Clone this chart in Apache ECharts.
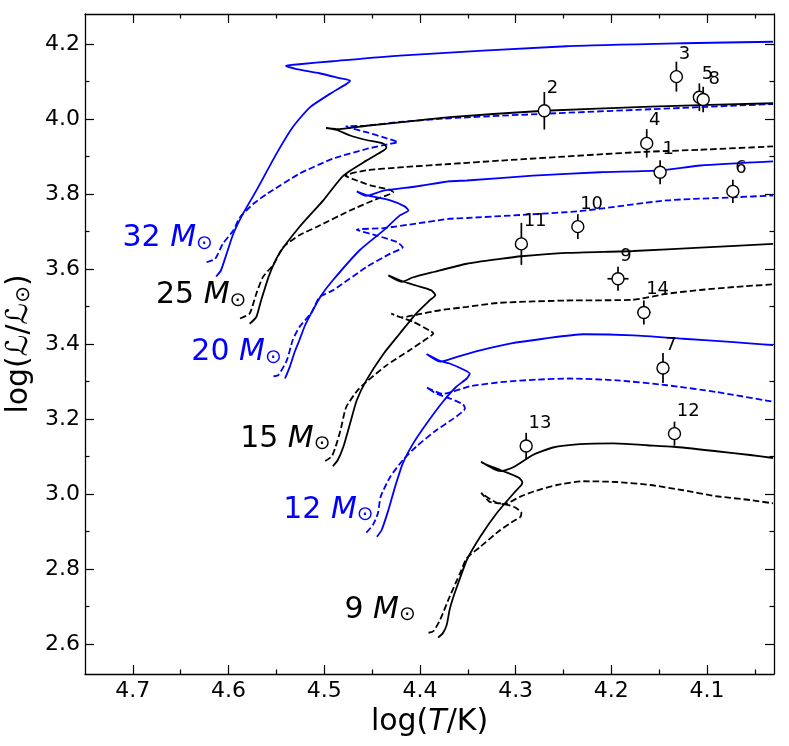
<!DOCTYPE html>
<html><head><meta charset="utf-8">
<script src="https://cdn.jsdelivr.net/npm/echarts@6/dist/echarts.min.js"></script>
<style>html,body{margin:0;padding:0;background:#fff}#c{width:789px;height:746px}</style>
</head><body><div id="c"></div>
<script>
const FONT = 'DejaVu Sans';
const BLUE = '#0000ff', BLACK = '#000000';

// axis ticks
const xTicks = [4.1, 4.2, 4.3, 4.4, 4.5, 4.6, 4.7];
const xMinorTicks = [4.05, 4.15, 4.25, 4.35, 4.45, 4.55, 4.65];
const yTicks = [2.6, 2.8, 3.0, 3.2, 3.4, 3.6, 3.8, 4.0, 4.2];
const yMinorTicks = [2.7, 2.9, 3.1, 3.3, 3.5, 3.7, 3.9, 4.1];

// evolutionary tracks [logT, logL]
const track9Solid = [[4.381,2.617],[4.376,2.629],[4.372,2.651],[4.369,2.691],[4.365,2.726],[4.360,2.762],[4.351,2.824],[4.337,2.886],[4.320,2.948],[4.302,3.002],[4.294,3.024],[4.293,3.032],[4.297,3.044],[4.316,3.064],[4.334,3.082],[4.336,3.086],[4.316,3.061],[4.302,3.072],[4.282,3.104],[4.261,3.124],[4.233,3.133],[4.198,3.135],[4.163,3.130],[4.135,3.126],[4.090,3.114],[4.055,3.104],[4.031,3.096]];
const track9Dashed = [[4.391,2.630],[4.386,2.634],[4.379,2.664],[4.369,2.726],[4.358,2.789],[4.351,2.829],[4.337,2.859],[4.316,2.904],[4.302,2.928],[4.295,2.939],[4.294,2.950],[4.302,2.966],[4.316,2.975],[4.327,2.979],[4.336,3.003],[4.316,2.973],[4.309,2.975],[4.295,2.993],[4.282,3.006],[4.257,3.024],[4.229,3.034],[4.194,3.032],[4.159,3.024],[4.125,3.010],[4.090,2.994],[4.055,2.984],[4.031,2.975]];
const track12Solid = [[4.445,2.886],[4.440,2.904],[4.433,2.957],[4.426,3.019],[4.418,3.081],[4.407,3.135],[4.393,3.188],[4.376,3.246],[4.362,3.286],[4.351,3.308],[4.348,3.321],[4.353,3.330],[4.369,3.348],[4.379,3.355],[4.393,3.373],[4.379,3.353],[4.362,3.365],[4.337,3.383],[4.306,3.401],[4.271,3.414],[4.229,3.426],[4.177,3.423],[4.125,3.414],[4.072,3.405],[4.031,3.397]];
const track12Dashed = [[4.456,2.897],[4.449,2.918],[4.444,2.948],[4.441,2.993],[4.431,3.046],[4.418,3.090],[4.404,3.126],[4.383,3.170],[4.365,3.201],[4.353,3.228],[4.355,3.239],[4.369,3.255],[4.383,3.268],[4.393,3.284],[4.376,3.267],[4.348,3.287],[4.313,3.299],[4.278,3.305],[4.243,3.308],[4.194,3.303],[4.142,3.290],[4.090,3.272],[4.031,3.246]];
const track15Solid = [[4.491,3.074],[4.486,3.090],[4.480,3.126],[4.473,3.188],[4.466,3.250],[4.456,3.303],[4.438,3.374],[4.421,3.428],[4.404,3.481],[4.390,3.516],[4.384,3.530],[4.388,3.543],[4.404,3.556],[4.419,3.568],[4.433,3.583],[4.419,3.566],[4.407,3.578],[4.386,3.592],[4.351,3.614],[4.316,3.627],[4.294,3.634],[4.247,3.643],[4.177,3.648],[4.107,3.657],[4.031,3.667]];
const track15Dashed = [[4.499,3.088],[4.492,3.101],[4.487,3.135],[4.483,3.170],[4.477,3.232],[4.465,3.277],[4.456,3.299],[4.435,3.343],[4.411,3.383],[4.393,3.414],[4.386,3.428],[4.390,3.436],[4.407,3.459],[4.421,3.472],[4.430,3.481],[4.419,3.471],[4.404,3.478],[4.379,3.490],[4.351,3.499],[4.316,3.510],[4.247,3.516],[4.177,3.518],[4.142,3.534],[4.107,3.544],[4.072,3.552],[4.031,3.559]];
const track20Solid = [[4.541,3.308],[4.536,3.339],[4.531,3.378],[4.526,3.410],[4.520,3.450],[4.513,3.485],[4.503,3.530],[4.491,3.570],[4.463,3.650],[4.438,3.703],[4.421,3.743],[4.412,3.756],[4.416,3.767],[4.431,3.783],[4.456,3.797],[4.466,3.807],[4.456,3.795],[4.438,3.809],[4.404,3.820],[4.369,3.834],[4.351,3.836],[4.282,3.849],[4.212,3.858],[4.149,3.863],[4.107,3.876],[4.031,3.887]];
const track20Dashed = [[4.553,3.314],[4.548,3.317],[4.539,3.357],[4.533,3.410],[4.526,3.445],[4.513,3.485],[4.505,3.525],[4.491,3.543],[4.456,3.605],[4.431,3.641],[4.418,3.658],[4.424,3.672],[4.445,3.689],[4.466,3.705],[4.438,3.709],[4.404,3.721],[4.369,3.734],[4.351,3.736],[4.235,3.754],[4.142,3.783],[4.073,3.791],[4.031,3.796]];
const track25Solid = [[4.578,3.454],[4.571,3.472],[4.566,3.516],[4.557,3.587],[4.547,3.641],[4.526,3.712],[4.501,3.783],[4.480,3.849],[4.456,3.889],[4.438,3.916],[4.435,3.925],[4.438,3.934],[4.456,3.944],[4.473,3.956],[4.487,3.971],[4.498,3.976],[4.487,3.973],[4.456,3.982],[4.421,3.991],[4.369,4.005],[4.270,4.022],[4.159,4.033],[4.031,4.042]];
const track25Dashed = [[4.588,3.468],[4.578,3.481],[4.571,3.534],[4.564,3.579],[4.553,3.612],[4.543,3.658],[4.526,3.690],[4.508,3.712],[4.473,3.756],[4.445,3.787],[4.428,3.805],[4.431,3.811],[4.452,3.823],[4.466,3.836],[4.478,3.849],[4.456,3.863],[4.421,3.871],[4.369,3.880],[4.316,3.889],[4.177,3.911],[4.107,3.918],[4.031,3.927]];
const track32Solid = [[4.613,3.580],[4.608,3.596],[4.602,3.641],[4.595,3.694],[4.585,3.747],[4.571,3.809],[4.550,3.907],[4.533,3.978],[4.515,4.031],[4.494,4.067],[4.477,4.093],[4.473,4.102],[4.484,4.109],[4.505,4.122],[4.529,4.133],[4.540,4.142],[4.526,4.146],[4.491,4.154],[4.421,4.169],[4.247,4.194],[4.125,4.202],[4.031,4.206]];
const track32Dashed = [[4.623,3.618],[4.614,3.627],[4.606,3.667],[4.595,3.703],[4.588,3.738],[4.574,3.774],[4.560,3.800],[4.526,3.854],[4.491,3.894],[4.456,3.920],[4.431,3.934],[4.423,3.938],[4.438,3.951],[4.456,3.965],[4.477,3.980],[4.456,3.982],[4.421,3.992],[4.369,4.002],[4.270,4.014],[4.159,4.026],[4.031,4.040]];

// mass labels
const massNames = ['32', '25', '20', '15', '12', '9'];
const massLabelLogT = [4.617, 4.582, 4.545, 4.494, 4.449, 4.405];
const massLabelLogL = [3.687, 3.535, 3.383, 3.152, 2.962, 2.696];

// observed stars
const starIds  = ['1','2','3','4','5','6','7','8','9','10','11','12','13','14'];
const starLogT = [4.149, 4.270, 4.132, 4.163, 4.108, 4.073, 4.146, 4.104, 4.193, 4.235, 4.294, 4.134, 4.289, 4.166];
const starLogL = [3.858, 4.022, 4.113, 3.935, 4.058, 3.807, 3.336, 4.052, 3.574, 3.713, 3.667, 3.161, 3.128, 3.484];
const starErrT = [0, 0, 0, 0, 0, 0, 0.006, 0, 0.011, 0, 0, 0, 0, 0.007];
const starErrL = [0.032, 0.050, 0.040, 0.038, 0.037, 0.031, 0.040, 0.034, 0.032, 0.033, 0.056, 0.032, 0.035, 0.032];

const tracks = [
  {d: track32Solid, c: BLUE, dash: false}, {d: track32Dashed, c: BLUE, dash: true},
  {d: track25Solid, c: BLACK, dash: false}, {d: track25Dashed, c: BLACK, dash: true},
  {d: track20Solid, c: BLUE, dash: false}, {d: track20Dashed, c: BLUE, dash: true},
  {d: track15Solid, c: BLACK, dash: false}, {d: track15Dashed, c: BLACK, dash: true},
  {d: track12Solid, c: BLUE, dash: false}, {d: track12Dashed, c: BLUE, dash: true},
  {d: track9Solid, c: BLACK, dash: false}, {d: track9Dashed, c: BLACK, dash: true}
];
const massColors = [BLUE, BLACK, BLUE, BLACK, BLUE, BLACK];

const chart = echarts.init(document.getElementById('c'), null, {renderer: 'canvas'});

const GRID = {left: 85, right: 15, top: 14, bottom: 72, containLabel: false, outerBoundsMode: 'none'};
const axisLineStyle = {color: '#000', width: 1.3};
const tickStyle = {color: '#000', width: 1.2};

function xAx(grid, pos, ticks, len, labels, extra) {
  return Object.assign({
    type: 'value', gridIndex: grid, position: pos, min: 4.03, max: 4.75, inverse: true,
    axisLine: {show: true, onZero: false, lineStyle: axisLineStyle},
    axisTick: {show: true, inside: true, length: len, customValues: ticks, lineStyle: tickStyle},
    axisLabel: labels ? {show: true, customValues: ticks, fontSize: 22, color: '#000', fontFamily: FONT, margin: 6,
      formatter: v => v.toFixed(1)} : {show: false},
    splitLine: {show: false}, minorTick: {show: false}
  }, extra || {});
}
function yAx(grid, pos, ticks, len, labels, extra) {
  return Object.assign({
    type: 'value', gridIndex: grid, position: pos, min: 2.52, max: 4.28,
    axisLine: {show: true, onZero: false, lineStyle: axisLineStyle},
    axisTick: {show: true, inside: true, length: len, customValues: ticks, lineStyle: tickStyle},
    axisLabel: labels ? {show: true, customValues: ticks, fontSize: 22, color: '#000', fontFamily: FONT, margin: 5,
      formatter: v => v.toFixed(1)} : {show: false},
    splitLine: {show: false}, minorTick: {show: false}
  }, extra || {});
}

const series = [];
tracks.forEach(t => {
  series.push({
    type: 'line', xAxisIndex: 0, yAxisIndex: 0, data: t.d, showSymbol: false, symbol: 'none',
    smooth: 0.2, silent: true, animation: false,
    lineStyle: {color: t.c, width: 1.8, type: t.dash ? [6.5, 3] : 'solid'}
  });
});

// error bars
series.push({
  type: 'custom', xAxisIndex: 0, yAxisIndex: 0, animation: false, silent: true,
  data: starIds.map((id, i) => [starLogT[i], starLogL[i], starErrT[i], starErrL[i]]),
  encode: {x: 0, y: 1},
  renderItem: (params, api) => {
    const t = api.value(0), l = api.value(1), et = api.value(2), el = api.value(3);
    const ch = [];
    const a = api.coord([t, l - el]), b = api.coord([t, l + el]);
    ch.push({type: 'line', shape: {x1: a[0], y1: a[1], x2: b[0], y2: b[1]}, style: {stroke: '#000', lineWidth: 1.7}});
    if (et > 0) {
      const c = api.coord([t - et, l]), d = api.coord([t + et, l]);
      ch.push({type: 'line', shape: {x1: c[0], y1: c[1], x2: d[0], y2: d[1]}, style: {stroke: '#000', lineWidth: 1.7}});
    }
    return {type: 'group', children: ch};
  }
});

// stars
series.push({
  type: 'scatter', xAxisIndex: 0, yAxisIndex: 0, animation: false,
  data: starIds.map((id, i) => {
    const item = {value: [starLogT[i], starLogL[i]]};
    if (id === '8') item.label = {position: [12, -13]};
    return item;
  }),
  symbol: 'circle', symbolSize: 12,
  itemStyle: {color: '#fff', borderColor: '#000', borderWidth: 1.4, opacity: 1},
  label: {show: true, position: [9, -16], align: 'left', verticalAlign: 'middle',
    formatter: p => starIds[p.dataIndex], fontSize: 18, color: '#000', fontFamily: FONT},
  z: 5
});

// mass labels
const rich = {};
[['b', BLUE], ['k', BLACK]].forEach(([k, col]) => {
  rich['n' + k] = {fontSize: 30, lineHeight: 30, fontFamily: FONT, color: col};
  rich['m' + k] = {fontSize: 30, lineHeight: 30, fontFamily: FONT, fontStyle: 'italic', color: col};
  rich['s' + k] = {fontSize: 20, lineHeight: 10, fontFamily: FONT, color: col, verticalAlign: 'bottom'};
});
series.push({
  type: 'scatter', xAxisIndex: 0, yAxisIndex: 0, animation: false, silent: true,
  symbolSize: 1, itemStyle: {color: 'rgba(0,0,0,0)', opacity: 1},
  data: massNames.map((m, i) => {
    const k = massColors[i] === BLUE ? 'b' : 'k';
    return {value: [massLabelLogT[i], massLabelLogL[i]],
      label: {formatter: '{n' + k + '|' + m + ' }{m' + k + '|M}{s' + k + '|⊙}'}};
  }),
  label: {show: true, position: 'left', distance: 0, offset: [1, 2], opacity: 1, rich: rich},
  z: 6
});

const option = {
  backgroundColor: '#fff',
  animation: false,
  grid: [Object.assign({}, GRID), Object.assign({}, GRID)],
  xAxis: [
    xAx(0, 'bottom', xTicks, 9, true, {
      name: '{a|log(}{i|T}{a|/K)}', nameLocation: 'middle', nameGap: 32,
      nameTextStyle: {rich: {
        a: {fontSize: 30, fontFamily: FONT, color: '#000'},
        i: {fontSize: 30, fontFamily: FONT, fontStyle: 'italic', color: '#000'}
      }}
    }),
    xAx(0, 'top', xTicks, 9, false),
    xAx(1, 'bottom', xMinorTicks, 4.5, false, {axisLine: {show: false}}),
    xAx(1, 'top', xMinorTicks, 4.5, false, {axisLine: {show: false}})
  ],
  yAxis: [
    yAx(0, 'left', yTicks, 9, true, {
      name: '{a|log(ℒ/ℒ}{s|⊙}{a|)}', nameLocation: 'middle', nameGap: 50, nameRotate: 90,
      nameTextStyle: {rich: {
        a: {fontSize: 30, lineHeight: 30, fontFamily: FONT, color: '#000'},
        s: {fontSize: 20, lineHeight: 10, fontFamily: FONT, color: '#000', verticalAlign: 'bottom'}
      }}
    }),
    yAx(0, 'right', yTicks, 9, false),
    yAx(1, 'left', yMinorTicks, 4.5, false, {axisLine: {show: false}}),
    yAx(1, 'right', yMinorTicks, 4.5, false, {axisLine: {show: false}})
  ],
  series: series
};
chart.setOption(option);
</script>
</body></html>
